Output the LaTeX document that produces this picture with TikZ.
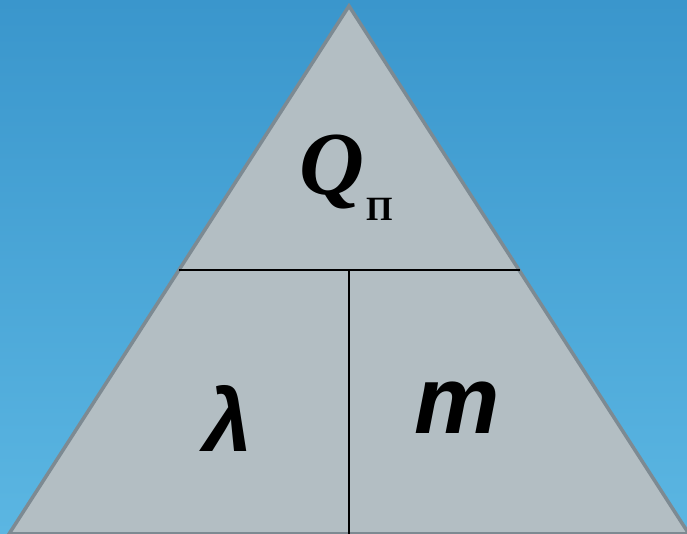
\documentclass[tikz,border=0pt]{standalone}
\usepackage{fontspec}
\setmainfont{Liberation Serif}
\newfontfamily\labsans{Liberation Sans}
\definecolor{bgtop}{HTML}{3A96CC}
\definecolor{bgbot}{HTML}{5BB6E2}
\definecolor{trifill}{HTML}{B3BEC3}
\definecolor{triedge}{HTML}{7D8A92}
\begin{document}
\begin{tikzpicture}[x=1pt,y=1pt,
  divline/.style={draw=black,line width=2pt},
  lab/.style={inner sep=0pt,anchor=center}]
\useasboundingbox (0,0) rectangle (687,534);
\shade[top color=bgtop,bottom color=bgbot] (0,0) rectangle (687,534);
\coordinate (apex) at (349,528);
\coordinate (bl) at (9,0);
\coordinate (br) at (689,0);
\coordinate (ml) at (179,264);
\coordinate (mr) at (520,264);
\coordinate (mc) at (349,264);
\coordinate (mb) at (349,0);
\begin{scope}
\clip (0,0) rectangle (687,534);
\draw[fill=trifill,draw=triedge,line width=3.5pt,line join=miter] (bl) -- (apex) -- (br) -- cycle;
\end{scope}
\draw[divline] (ml) -- (mr);
\draw[divline] (mc) -- (mb);
\node[lab] (q) at (332,362) {\fontsize{90}{90}\selectfont\bfseries\itshape Q};
\node[lab,anchor=base west] (p) at (366,313) {\fontsize{34}{34}\selectfont\bfseries П};
\node[lab] (lam) at (228,116) {\labsans\fontsize{88}{88}\selectfont\bfseries\itshape λ};
\node[lab] (m) at (457,126) {\labsans\fontsize{96}{96}\selectfont\bfseries\itshape m};
\end{tikzpicture}
\end{document}
